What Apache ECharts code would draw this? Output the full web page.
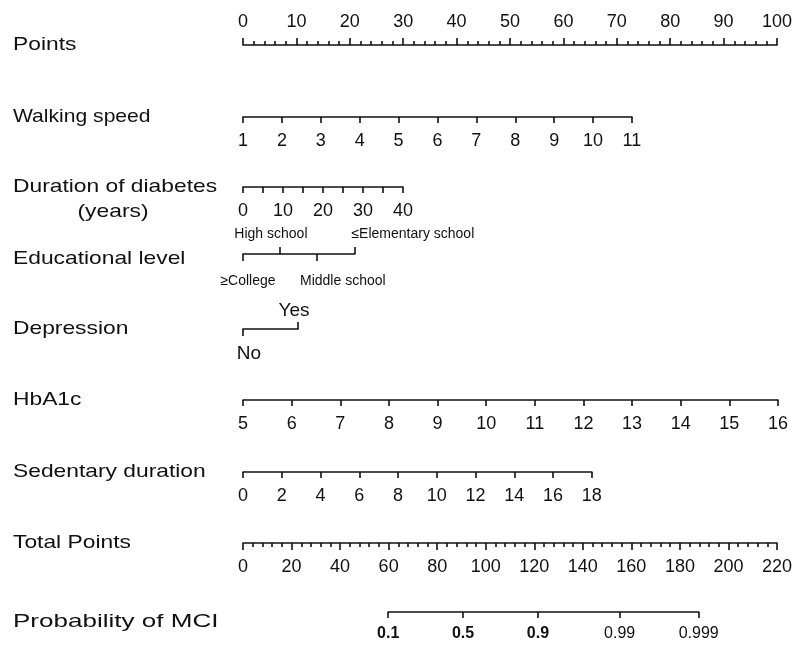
<!DOCTYPE html>
<html>
<head>
<meta charset="utf-8">
<script src="https://cdn.jsdelivr.net/npm/echarts@6/dist/echarts.min.js"></script>
<style>
  html, body { margin: 0; padding: 0; background: #ffffff; }
  #chart { width: 795px; height: 650px; }
</style>
</head>
<body>
<div id="chart"></div>
<script>
// ---- Nomogram data: each predictor's range and the points it contributes ----
const pointsRange = [0, 100];

const walkingSpeedRange = [1, 11];
const walkingSpeedPoints = [0, 72.7];

const diabetesYearsRange = [0, 40];
const diabetesYearsPoints = [0, 29.9];
const diabetesLabelTicks = [0, 10, 20, 30, 40];

const educationLevels = ['≥College', 'High school', 'Middle school', '≤Elementary school'];
const educationPoints = [0, 6.9, 13.8, 20.9];
const educationSide = ['below', 'above', 'below', 'above'];

const depressionLevels = ['No', 'Yes'];
const depressionPoints = [0, 10.3];
const depressionSide = ['below', 'above'];

const hba1cRange = [5, 16];
const hba1cPoints = [0, 100];

const sedentaryRange = [0, 18];
const sedentaryPoints = [0, 65.2];

const totalPointsRange = [0, 220];

const probabilityLabels = ['0.1', '0.5', '0.9', '0.99', '0.999'];
const probabilityTotals = [59.7, 90.5, 121.3, 154.9, 187.4];
const probabilityBold = [true, true, true, false, false];

// ---- Layout ----
const AXIS_LEFT = 243, AXIS_RIGHT = 778;
const FONT = 'Liberation Sans, Arial, sans-serif';
const INK = '#111111';
const LINE = { color: INK, width: 1.6 };
const TICK_FONT = 18;
const TICK_MARGIN = 15;

// horizontal pixel for a points value on the top "Points" scale
const ptsX = p => AXIS_LEFT + (p - pointsRange[0]) / (pointsRange[1] - pointsRange[0]) * (AXIS_RIGHT - AXIS_LEFT);
// horizontal pixel for a total-points value on the "Total Points" scale
const totX = t => AXIS_LEFT + (t - totalPointsRange[0]) / (totalPointsRange[1] - totalPointsRange[0]) * (AXIS_RIGHT - AXIS_LEFT);

const grids = [], xAxes = [], yAxes = [], series = [], graphics = [];

function addGrid(x0, x1, lineY) {
  const gi = grids.length;
  grids.push({ left: x0, width: x1 - x0, top: lineY, height: 0 });
  yAxes.push({ gridIndex: gi, type: 'value', show: false, min: -1, max: 1 });
  return gi;
}

function numericAxis(gi, opt) {
  const ax = Object.assign({
    gridIndex: gi, type: 'value', position: 'bottom',
    axisLine: { show: true, lineStyle: LINE },
    axisTick: { show: true, length: 6, inside: false, lineStyle: LINE },
    axisLabel: { show: true, margin: TICK_MARGIN, fontSize: TICK_FONT, color: INK, fontFamily: FONT },
    splitLine: { show: false }
  }, opt);
  xAxes.push(ax);
  return xAxes.length - 1;
}

// Row titles are drawn slightly widened, like the original typeface
function title(text, x, y, align, stretch) {
  graphics.push({
    type: 'text', x: x, y: y, scaleX: stretch || 1.2,
    style: { text: text, fill: INK, font: '19px ' + FONT, align: align || 'left', verticalAlign: 'middle' }
  });
}

// Points
{
  const gi = addGrid(ptsX(pointsRange[0]), ptsX(pointsRange[1]), 45);
  numericAxis(gi, {
    position: 'top', min: pointsRange[0], max: pointsRange[1], interval: 10,
    axisTick: { show: true, length: 7, lineStyle: LINE },
    minorTick: { show: true, splitNumber: 5, length: 4, lineStyle: LINE },
    axisLabel: { show: true, margin: 14, fontSize: TICK_FONT, color: INK, fontFamily: FONT }
  });
  title('Points', 13, 45);
}

// Walking speed
{
  const gi = addGrid(ptsX(walkingSpeedPoints[0]), ptsX(walkingSpeedPoints[1]), 117);
  numericAxis(gi, { min: walkingSpeedRange[0], max: walkingSpeedRange[1], interval: 1 });
  title('Walking speed', 13, 117, 'left', 1.11);
}

// Duration of diabetes
{
  const gi = addGrid(ptsX(diabetesYearsPoints[0]), ptsX(diabetesYearsPoints[1]), 187);
  numericAxis(gi, {
    min: diabetesYearsRange[0], max: diabetesYearsRange[1], interval: 5,
    axisLabel: { show: true, margin: TICK_MARGIN, fontSize: TICK_FONT, color: INK, fontFamily: FONT, customValues: diabetesLabelTicks }
  });
  title('Duration of diabetes', 13, 187);
  title('(years)', 113, 212, 'center');
}

// Categorical rows: ticks alternate below / above, labels placed beside each tick
function categoricalRow(levels, pts, side, lineY, fontSize, offsets) {
  const gi = addGrid(ptsX(pts[0]), ptsX(pts[pts.length - 1]), lineY);
  const lo = pts[0], hi = pts[pts.length - 1];
  const below = pts.filter((p, i) => side[i] === 'below');
  const above = pts.filter((p, i) => side[i] === 'above');
  const xi = numericAxis(gi, {
    min: lo, max: hi,
    axisTick: { show: true, length: 7, lineStyle: LINE, customValues: below },
    axisLabel: { show: false }
  });
  numericAxis(gi, {
    position: 'top', min: lo, max: hi,
    axisLine: { show: false },
    axisTick: { show: true, length: 7, lineStyle: LINE, customValues: above },
    axisLabel: { show: false }
  });
  series.push({
    type: 'scatter', xAxisIndex: xi, yAxisIndex: gi, symbolSize: 0, silent: true,
    itemStyle: { opacity: 1 },
    data: levels.map((name, i) => ({
      name: name, value: [pts[i], 0],
      label: {
        show: true, formatter: '{b}',
        position: side[i] === 'below' ? 'bottom' : 'top',
        distance: offsets[i][1],
        offset: [offsets[i][0], 0],
        color: INK, fontFamily: FONT, fontSize: fontSize
      }
    }))
  });
}

categoricalRow(educationLevels, educationPoints, educationSide, 254, 14,
  [[5, 20], [-9, 13], [26, 20], [58, 13]]);
title('Educational level', 13, 259);

categoricalRow(depressionLevels, depressionPoints, depressionSide, 329, 19,
  [[6, 15], [-4, 9]]);
title('Depression', 13, 329);

// HbA1c
{
  const gi = addGrid(ptsX(hba1cPoints[0]), ptsX(hba1cPoints[1]), 400);
  numericAxis(gi, { min: hba1cRange[0], max: hba1cRange[1], interval: 1 });
  title('HbA1c', 13, 400);
}

// Sedentary duration
{
  const gi = addGrid(ptsX(sedentaryPoints[0]), ptsX(sedentaryPoints[1]), 472);
  numericAxis(gi, { min: sedentaryRange[0], max: sedentaryRange[1], interval: 2 });
  title('Sedentary duration', 13, 472);
}

// Total Points
{
  const gi = addGrid(totX(totalPointsRange[0]), totX(totalPointsRange[1]), 543);
  numericAxis(gi, {
    min: totalPointsRange[0], max: totalPointsRange[1], interval: 20,
    axisTick: { show: true, length: 7, lineStyle: LINE },
    minorTick: { show: true, splitNumber: 5, length: 4, lineStyle: LINE }
  });
  title('Total Points', 13, 543);
}

// Probability of MCI, positioned on the total-points scale
{
  const lo = probabilityTotals[0], hi = probabilityTotals[probabilityTotals.length - 1];
  const gi = addGrid(totX(lo), totX(hi), 612);
  numericAxis(gi, {
    min: lo, max: hi,
    axisTick: { show: true, length: 6, lineStyle: LINE, customValues: probabilityTotals },
    axisLabel: {
      show: true, margin: 14, fontSize: 16, color: INK, fontFamily: FONT,
      customValues: probabilityTotals,
      formatter: v => {
        const i = probabilityTotals.findIndex(t => Math.abs(t - v) < 1e-6);
        return i < 0 ? '' : (probabilityBold[i] ? '{b|' + probabilityLabels[i] + '}' : probabilityLabels[i]);
      },
      rich: { b: { fontWeight: 'bold', fontSize: 16, color: INK, fontFamily: FONT } }
    }
  });
  title('Probability of MCI', 13, 622, 'left', 1.37);
}

const chart = echarts.init(document.getElementById('chart'), null, { renderer: 'canvas' });
chart.setOption({
  backgroundColor: '#ffffff',
  animation: false,
  grid: grids,
  xAxis: xAxes,
  yAxis: yAxes,
  series: series,
  graphic: graphics
});
</script>
</body>
</html>
